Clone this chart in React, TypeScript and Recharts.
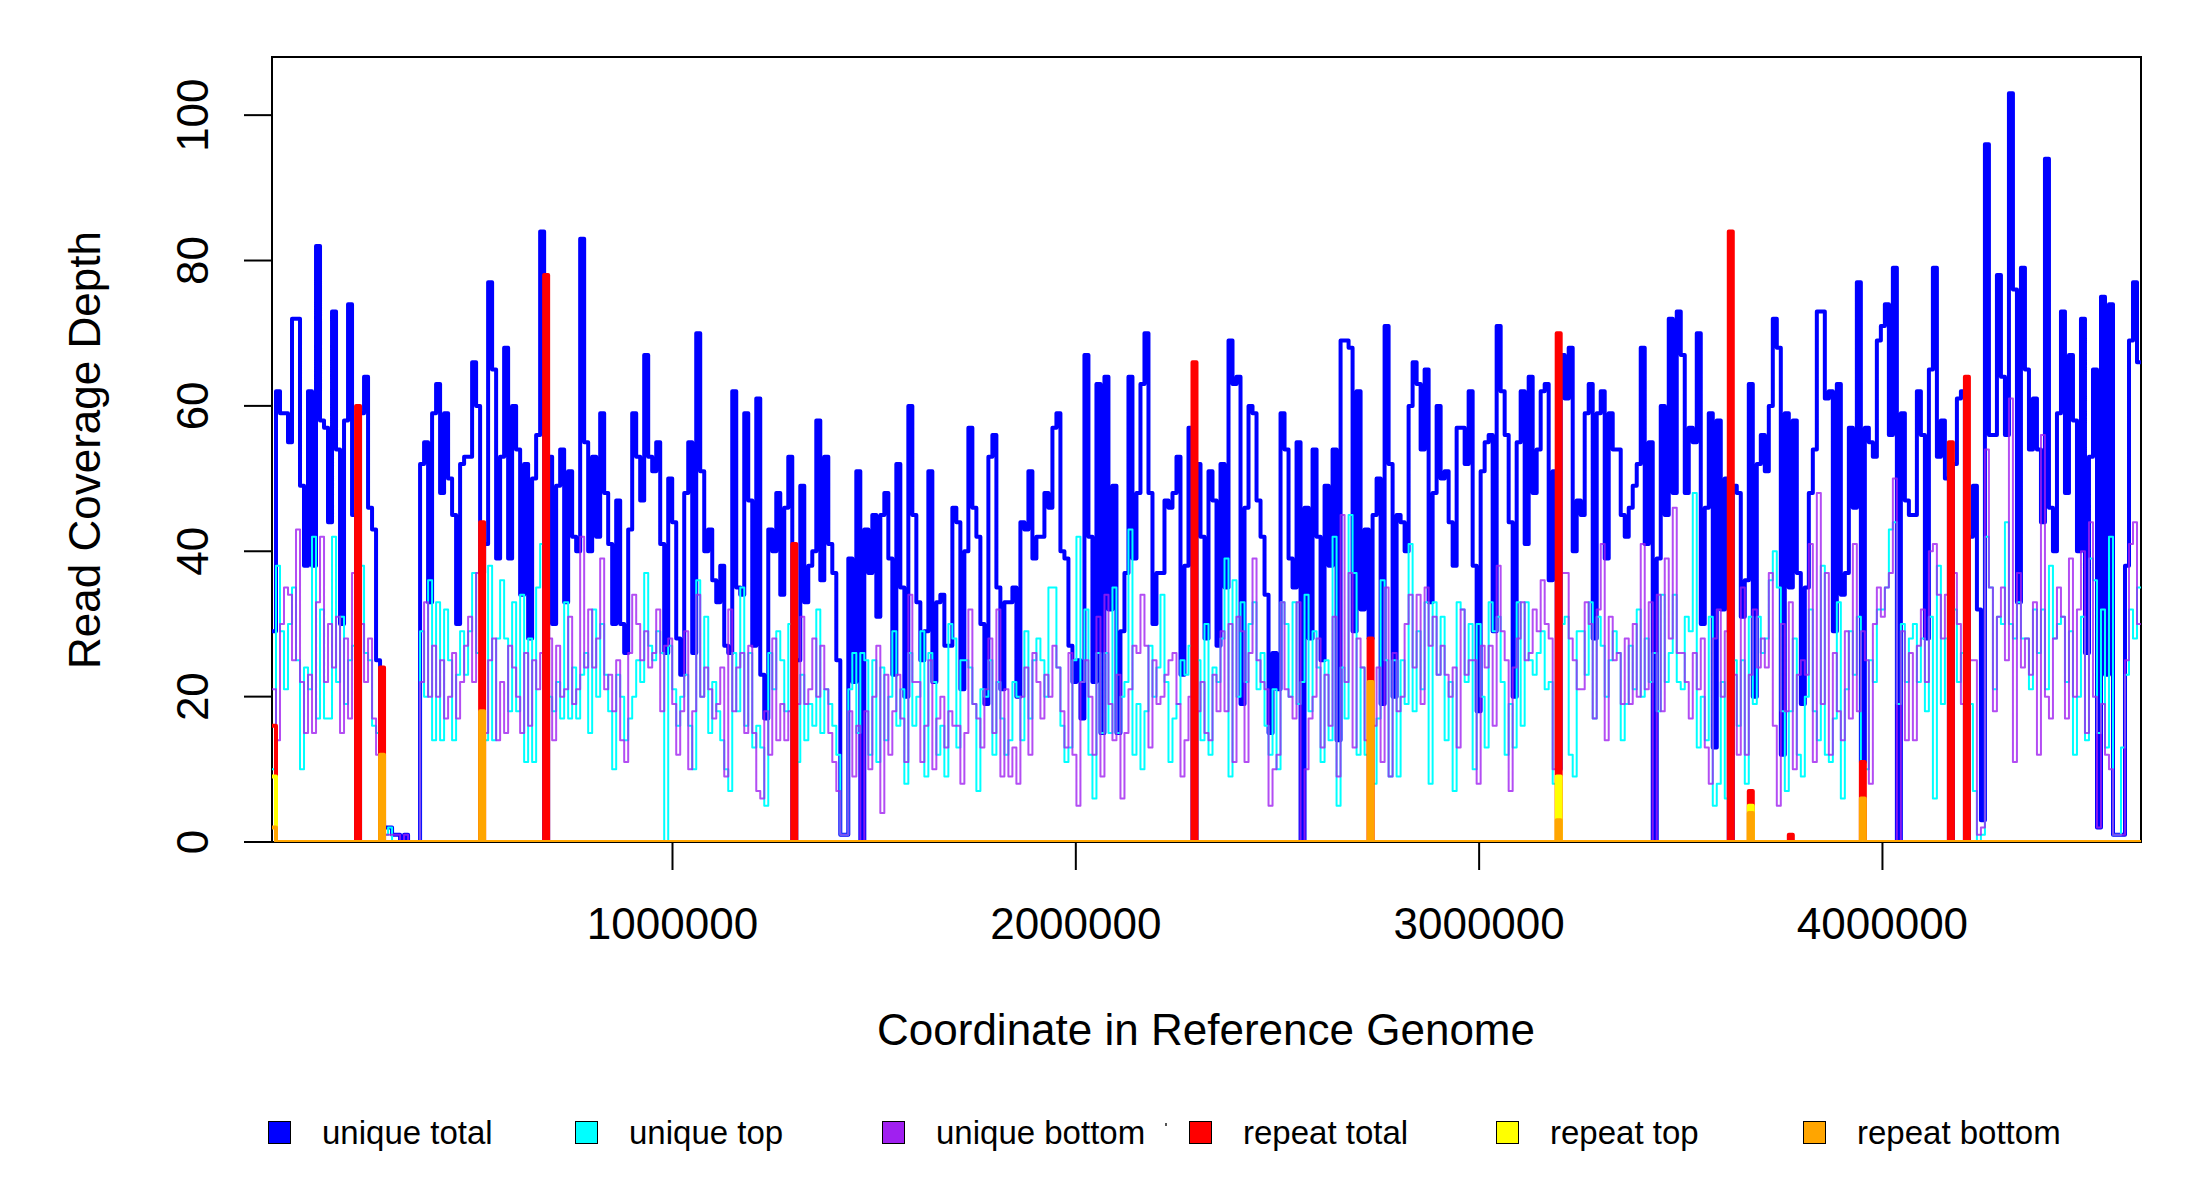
import { LineChart, Line, XAxis, YAxis, ReferenceArea } from "recharts"

const FONT = "'Liberation Sans', Arial, sans-serif"

// genome bins: start coordinate and bin width (bp)
const X_START = 7000
const BIN_SIZE = 9923

const uniqueTotal = [
  29, 62, 59, 59, 55, 72, 72, 49, 38, 62,
  38, 82, 58, 57, 44, 73, 54, 30, 58, 74,
  45, 0, 59, 64, 46, 43, 25, 3, 2, 2,
  1, 1, 0, 1, 0, 0, 0, 52, 55, 33,
  59, 63, 48, 59, 50, 45, 30, 52, 53, 53,
  66, 60, 37, 41, 77, 65, 39, 53, 68, 39,
  60, 54, 34, 52, 28, 50, 56, 84, 0, 53,
  30, 49, 54, 33, 51, 42, 40, 83, 55, 40,
  53, 42, 59, 48, 41, 30, 47, 30, 26, 43,
  59, 53, 47, 67, 53, 51, 55, 41, 26, 50,
  44, 28, 23, 48, 55, 26, 70, 51, 40, 43,
  36, 33, 38, 27, 26, 62, 35, 34, 59, 47,
  27, 61, 23, 17, 43, 40, 48, 34, 46, 53,
  0, 25, 49, 33, 38, 40, 58, 36, 53, 41,
  37, 25, 1, 1, 39, 22, 51, 0, 43, 37,
  45, 31, 45, 48, 39, 23, 52, 35, 20, 60,
  45, 33, 25, 29, 51, 22, 33, 34, 27, 27,
  46, 44, 21, 40, 57, 46, 42, 30, 19, 53,
  56, 35, 21, 33, 33, 35, 20, 44, 43, 51,
  39, 42, 42, 48, 46, 57, 59, 40, 39, 27,
  22, 25, 17, 67, 42, 22, 63, 15, 64, 32,
  49, 15, 29, 37, 64, 39, 48, 63, 70, 48,
  30, 37, 37, 47, 46, 48, 53, 23, 38, 57,
  0, 52, 42, 28, 51, 47, 27, 52, 35, 69,
  63, 64, 19, 46, 60, 59, 47, 42, 34, 15,
  26, 21, 59, 54, 39, 35, 55, 0, 46, 28,
  54, 42, 25, 49, 38, 54, 14, 69, 69, 68,
  29, 62, 32, 43, 28, 45, 50, 19, 71, 52,
  20, 45, 44, 40, 60, 66, 63, 54, 65, 33,
  48, 60, 50, 51, 44, 38, 57, 57, 52, 62,
  38, 18, 51, 55, 56, 29, 71, 62, 56, 44,
  20, 55, 62, 41, 64, 48, 54, 62, 63, 36,
  51, 10, 67, 61, 68, 40, 47, 45, 59, 63,
  28, 59, 62, 39, 59, 54, 54, 45, 42, 46,
  49, 52, 68, 41, 55, 0, 39, 60, 45, 72,
  48, 73, 67, 48, 57, 55, 70, 30, 46, 59,
  13, 58, 32, 50, 0, 49, 48, 31, 36, 63,
  20, 52, 56, 51, 60, 72, 68, 12, 59, 35,
  58, 37, 19, 35, 48, 54, 73, 73, 61, 62,
  29, 63, 34, 37, 57, 46, 77, 11, 57, 55,
  53, 69, 71, 74, 56, 79, 0, 59, 47, 45,
  45, 62, 56, 28, 65, 79, 53, 58, 50, 0,
  52, 61, 62, 0, 42, 49, 32, 3, 96, 56,
  56, 78, 64, 56, 103, 76, 33, 79, 65, 54,
  61, 54, 44, 94, 46, 40, 59, 73, 48, 67,
  58, 40, 72, 26, 53, 65, 2, 75, 23, 74,
  1, 1, 1, 38, 69, 77, 66,
]

const uniqueTop = [
  10, 38, 29, 21, 30, 35, 25, 10, 24, 21,
  42, 17, 32, 17, 17, 42, 22, 31, 19, 25,
  27, 0, 38, 26, 25, 16, 15, 2, 1, 2,
  0, 0, 0, 0, 0, 0, 0, 29, 20, 36,
  14, 33, 14, 32, 25, 14, 23, 29, 23, 29,
  37, 26, 17, 14, 38, 14, 28, 36, 28, 18,
  33, 18, 34, 11, 28, 11, 35, 41, 26, 20,
  18, 22, 17, 33, 17, 24, 17, 23, 26, 15,
  32, 20, 30, 23, 18, 10, 23, 20, 14, 17,
  20, 25, 22, 37, 27, 25, 29, 26, 0, 27,
  21, 16, 20, 23, 16, 10, 36, 20, 31, 15,
  22, 18, 14, 10, 7, 26, 18, 35, 16, 26,
  13, 16, 13, 5, 26, 21, 29, 25, 18, 30,
  14, 11, 23, 14, 19, 16, 32, 15, 21, 19,
  16, 12, 1, 1, 21, 26, 15, 26, 25, 12,
  25, 11, 24, 14, 20, 29, 16, 21, 8, 26,
  16, 20, 29, 9, 26, 22, 12, 16, 9, 30,
  28, 13, 25, 25, 24, 19, 7, 21, 20, 25,
  12, 22, 17, 12, 14, 22, 20, 14, 29, 17,
  25, 28, 25, 20, 35, 35, 24, 16, 11, 13,
  25, 42, 22, 32, 12, 6, 26, 15, 26, 15,
  35, 15, 20, 22, 43, 12, 19, 10, 18, 27,
  20, 24, 34, 22, 11, 17, 19, 25, 23, 27,
  27, 25, 14, 30, 12, 24, 22, 28, 39, 9,
  36, 20, 33, 22, 30, 33, 21, 26, 16, 12,
  21, 10, 33, 30, 20, 33, 19, 22, 34, 18,
  29, 24, 11, 25, 14, 42, 5, 24, 17, 45,
  37, 12, 24, 12, 27, 8, 17, 36, 25, 9,
  25, 9, 25, 19, 41, 18, 29, 21, 33, 8,
  33, 23, 31, 14, 22, 7, 33, 32, 22, 30,
  10, 30, 20, 13, 33, 29, 31, 22, 12, 19,
  13, 33, 16, 33, 25, 23, 26, 29, 21, 22,
  8, 5, 30, 31, 12, 9, 29, 29, 23, 33,
  17, 31, 27, 20, 25, 29, 26, 14, 19, 27,
  21, 32, 20, 28, 22, 26, 18, 34, 22, 26,
  34, 22, 21, 31, 29, 48, 13, 20, 14, 31,
  5, 8, 22, 6, 20, 25, 16, 25, 8, 31,
  19, 31, 26, 28, 36, 40, 35, 18, 7, 18,
  28, 12, 9, 20, 32, 18, 14, 38, 12, 11,
  17, 33, 6, 21, 29, 23, 31, 6, 10, 25,
  22, 32, 32, 35, 43, 44, 19, 30, 22, 28,
  30, 22, 28, 18, 31, 6, 38, 19, 28, 22,
  32, 22, 26, 19, 19, 7, 0, 1, 42, 35,
  21, 31, 30, 44, 30, 28, 33, 28, 28, 21,
  32, 26, 32, 21, 38, 28, 30, 31, 22, 29,
  12, 20, 31, 14, 39, 36, 15, 32, 13, 42,
  1, 1, 13, 23, 32, 28, 35,
]

const uniqueBottom = [
  21, 14, 30, 35, 34, 25, 43, 22, 15, 23,
  15, 33, 42, 22, 30, 24, 31, 15, 28, 17,
  37, 0, 30, 22, 28, 17, 12, 1, 1, 1,
  1, 1, 0, 1, 0, 0, 0, 22, 33, 20,
  27, 20, 25, 17, 20, 26, 17, 22, 27, 31,
  22, 37, 18, 15, 25, 28, 14, 22, 15, 27,
  24, 20, 15, 26, 16, 25, 21, 26, 0, 28,
  14, 27, 20, 21, 31, 19, 21, 42, 24, 32,
  24, 28, 39, 21, 23, 18, 25, 14, 11, 26,
  34, 30, 25, 29, 24, 26, 32, 18, 27, 28,
  19, 12, 18, 29, 10, 18, 34, 20, 24, 21,
  17, 19, 24, 9, 32, 18, 24, 26, 15, 27,
  15, 7, 6, 18, 12, 28, 14, 19, 14, 18,
  0, 19, 31, 19, 21, 28, 20, 27, 21, 15,
  11, 7, 1, 1, 18, 9, 16, 0, 18, 10,
  20, 27, 4, 23, 12, 18, 23, 17, 11, 34,
  22, 22, 11, 16, 25, 10, 17, 20, 13, 18,
  16, 16, 8, 15, 32, 19, 17, 13, 21, 28,
  15, 32, 9, 21, 9, 13, 8, 20, 24, 12,
  26, 22, 17, 23, 20, 27, 24, 18, 13, 26,
  12, 5, 22, 25, 20, 12, 31, 9, 34, 19,
  14, 23, 6, 15, 21, 27, 26, 34, 27, 13,
  25, 19, 20, 23, 25, 26, 19, 9, 14, 20,
  0, 18, 22, 15, 14, 23, 18, 29, 18, 30,
  11, 31, 29, 11, 26, 39, 25, 22, 21, 5,
  10, 12, 33, 21, 20, 17, 33, 0, 10, 17,
  20, 28, 13, 23, 16, 31, 9, 45, 22, 37,
  13, 28, 24, 14, 26, 16, 24, 11, 35, 9,
  26, 18, 20, 30, 34, 24, 34, 19, 35, 27,
  31, 23, 27, 23, 20, 24, 13, 32, 23, 25,
  25, 8, 27, 24, 27, 16, 38, 29, 25, 7,
  24, 28, 33, 25, 26, 32, 29, 36, 30, 28,
  10, 20, 37, 37, 28, 25, 21, 21, 33, 30,
  17, 32, 41, 14, 31, 25, 26, 19, 28, 19,
  30, 20, 41, 21, 33, 0, 34, 18, 39, 28,
  46, 26, 26, 22, 17, 26, 21, 28, 13, 8,
  28, 32, 20, 29, 0, 23, 12, 35, 12, 23,
  32, 24, 28, 24, 37, 16, 5, 30, 18, 33,
  10, 23, 25, 23, 41, 11, 48, 19, 37, 12,
  26, 18, 14, 29, 17, 41, 18, 29, 25, 8,
  30, 35, 31, 35, 37, 50, 0, 29, 14, 26,
  14, 27, 32, 22, 40, 41, 34, 28, 34, 0,
  37, 30, 19, 0, 25, 25, 1, 2, 54, 35,
  18, 31, 35, 25, 61, 11, 37, 24, 28, 23,
  33, 12, 56, 20, 17, 28, 35, 31, 17, 39,
  20, 32, 40, 15, 44, 20, 2, 19, 12, 10,
  1, 1, 1, 25, 41, 44, 30,
]

// repeat series are zero almost everywhere: [bin index, depth]
const repeatTotalPeaks = [
  [0, 16], [21, 60], [27, 24], [52, 44], [68, 78], [130, 41], [230, 66], [274, 28],
  [321, 70], [364, 84], [369, 7], [379, 1], [397, 11], [419, 55], [423, 64],
]
const repeatTopPeaks = [[0, 9], [321, 9], [369, 5]]
const repeatBottomPeaks = [[0, 2], [27, 12], [52, 18], [274, 22], [321, 3], [369, 4], [397, 6]]

const xTicks = [1000000, 2000000, 3000000, 4000000]
const yTicks = [0, 20, 40, 60, 80, 100]

const series = [
  { key: "ut", label: "unique total", color: "#0000FF", width: 4, opacity: 1 },
  { key: "utop", label: "unique top", color: "#00FFFF", width: 2, opacity: 1 },
  { key: "ubot", label: "unique bottom", color: "#A020F0", width: 2, opacity: 0.8 },
  { key: "rt", label: "repeat total", color: "#FF0000", width: 4, opacity: 1 },
  { key: "rtop", label: "repeat top", color: "#FFFF00", width: 4, opacity: 1 },
  { key: "rbot", label: "repeat bottom", color: "#FFA500", width: 4, opacity: 1 },
]

function fromPeaks(peaks: number[][]) {
  const out = uniqueTotal.map(() => 0)
  peaks.forEach(([i, v]) => {
    out[i] = v
  })
  return out
}

const repeatTotal = fromPeaks(repeatTotalPeaks)
const repeatTop = fromPeaks(repeatTopPeaks)
const repeatBottom = fromPeaks(repeatBottomPeaks)

const nBins = uniqueTotal.length
const X_END = X_START + nBins * BIN_SIZE

const rows = Array.from({ length: nBins + 1 }, (_, k) => {
  const i = Math.min(k, nBins - 1)
  return {
    x: X_START + k * BIN_SIZE,
    ut: uniqueTotal[i] ?? 0,
    utop: uniqueTop[i] ?? 0,
    ubot: uniqueBottom[i] ?? 0,
    rt: repeatTotal[i],
    rtop: repeatTop[i],
    rbot: repeatBottom[i],
  }
})

const renderXTick = (props: any) => {
  const { x, y, payload } = props
  return (
    <text x={x} y={y + 69} textAnchor="middle" fontSize={44} fontFamily={FONT} fill="#000">
      {payload.value}
    </text>
  )
}

const renderYTick = (props: any) => {
  const { x, y, payload } = props
  const bx = x - 36
  return (
    <text x={bx} y={y} transform={`rotate(-90 ${bx} ${y})`} textAnchor="middle" fontSize={44} fontFamily={FONT} fill="#000">
      {payload.value}
    </text>
  )
}

const LEGEND_X = [279, 586, 893, 1200, 1507, 1814]
const LEGEND_Y = 1132

export default function App() {
  return (
    <div style={{ position: "absolute", left: 0, top: 0, width: 2200, height: 1200, background: "#fff", fontFamily: FONT, color: "#000" }}>
      <LineChart width={2200} height={1200} data={rows} margin={{ top: 57, right: 59, bottom: 298, left: 0 }}>
        <ReferenceArea x1={X_START} x2={X_END} y1={0} y2={108} fill="none" stroke="#000" strokeWidth={2} ifOverflow="visible" />
        <XAxis
          type="number"
          dataKey="x"
          domain={[X_START, X_END]}
          ticks={xTicks}
          interval={0}
          allowDataOverflow
          axisLine={false}
          tickSize={28}
          tickMargin={0}
          tickLine={{ stroke: "#000", strokeWidth: 2 }}
          height={60}
          tick={renderXTick}
        />
        <YAxis
          type="number"
          domain={[0, 108]}
          ticks={yTicks}
          interval={0}
          allowDataOverflow
          axisLine={false}
          tickSize={28}
          tickMargin={0}
          tickLine={{ stroke: "#000", strokeWidth: 2 }}
          width={272}
          tick={renderYTick}
        />
        {series.map((s) => (
          <Line
            key={s.key}
            dataKey={s.key}
            type="stepAfter"
            stroke={s.color}
            strokeOpacity={s.opacity}
            strokeWidth={s.width}
            strokeLinejoin="round"
            strokeLinecap="round"
            dot={false}
            activeDot={false}
            isAnimationActive={false}
          />
        ))}
      </LineChart>

      <div
        style={{
          position: "absolute",
          left: 85,
          top: 450,
          transform: "translate(-50%, -50%) rotate(-90deg)",
          fontSize: 44,
          lineHeight: "44px",
          whiteSpace: "nowrap",
        }}
      >
        Read Coverage Depth
      </div>
      <div
        style={{
          position: "absolute",
          left: 1206,
          top: 1008,
          transform: "translateX(-50%)",
          fontSize: 44,
          lineHeight: "44px",
          whiteSpace: "nowrap",
        }}
      >
        Coordinate in Reference Genome
      </div>

      {series.map((s, i) => (
        <div key={s.key}>
          <div
            style={{
              position: "absolute",
              left: LEGEND_X[i] - 11.5,
              top: LEGEND_Y - 11.5,
              width: 23,
              height: 23,
              boxSizing: "border-box",
              border: "1.5px solid #000",
              background: s.color,
            }}
          />
          <div
            style={{
              position: "absolute",
              left: LEGEND_X[i] + 43,
              top: LEGEND_Y - 16,
              fontSize: 33,
              lineHeight: "33px",
              whiteSpace: "nowrap",
            }}
          >
            {s.label}
          </div>
        </div>
      ))}
      <div style={{ position: "absolute", left: 1165, top: 1123, width: 1.5, height: 3, background: "#555" }} />
    </div>
  )
}
